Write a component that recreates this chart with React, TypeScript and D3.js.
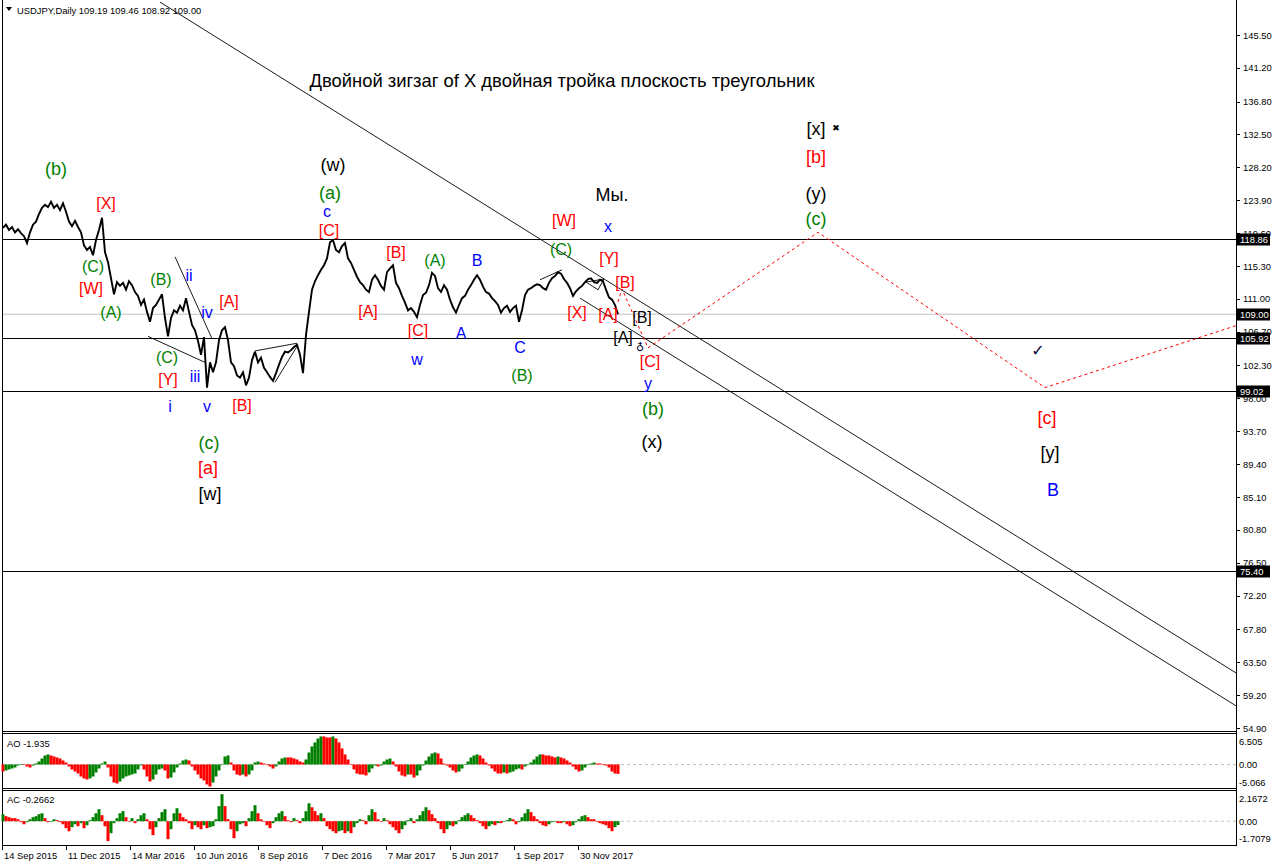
import React from "react";
import * as d3 from "d3";

// ---------- data ----------
const BARS_PER_SAMPLE = 3;
const TOTAL_BARS = 1234;

// USDJPY daily closes, one value every 3 bars
const closes = [
  120.3, 120.7, 120.0, 120.4, 119.7, 120.1, 119.6, 119.2, 118.3, 119.7,
  120.7, 121.1, 122.1, 122.9, 123.3, 123.0, 123.7, 122.9, 123.3, 122.6,
  123.5, 122.4, 121.1, 120.5, 121.2, 120.4, 119.7, 118.0, 117.4, 117.8,
  116.7, 118.7, 120.0, 121.6, 117.1, 115.8, 113.7, 111.6, 113.2, 112.7,
  113.1, 112.2, 113.3, 112.8, 111.9, 111.4, 110.2, 110.9, 109.3, 108.0,
  109.8, 110.2, 110.9, 111.6, 108.5, 106.1, 108.5, 109.5, 109.2, 110.1,
  109.5, 111.1, 109.3, 107.6, 106.9, 105.5, 103.7, 106.0, 99.4, 102.7,
  101.4, 102.7, 105.6, 106.9, 107.3, 105.6, 102.7, 102.2, 101.0, 100.7,
  101.4, 99.7, 100.7, 103.0, 104.1, 102.7, 103.3, 102.0, 101.4, 100.8,
  100.3, 101.3, 102.4, 103.4, 104.1, 104.0, 104.3, 104.7, 105.0, 103.7,
  101.3, 106.3, 109.3, 112.2, 113.3, 114.1, 114.8, 115.4, 116.3, 118.4,
  118.7, 117.4, 117.1, 117.9, 118.3, 116.3, 115.7, 114.8, 113.9, 113.2,
  112.8, 112.2, 111.9, 113.5, 114.1, 113.5, 112.7, 112.2, 114.5, 115.0,
  115.4, 113.1, 112.4, 111.4, 110.5, 109.5, 109.8, 109.3, 108.6, 110.2,
  111.5, 111.8, 112.8, 114.4, 114.0, 112.4, 111.9, 112.8, 112.2, 110.9,
  109.9, 109.2, 110.2, 111.1, 111.4, 112.2, 112.8, 113.5, 114.1, 113.5,
  112.6, 111.9, 111.7, 111.1, 110.7, 110.2, 109.2, 109.8, 110.1, 109.3,
  109.8, 110.1, 108.0, 109.5, 111.5, 112.2, 112.4, 112.7, 112.9, 112.8,
  112.4, 112.2, 113.1, 113.7, 114.0, 114.5, 114.3, 113.6, 113.1, 112.4,
  111.4, 112.0, 112.4, 112.7, 113.2, 113.6, 113.7, 113.2, 113.1, 113.5,
  113.3, 112.2, 111.2, 110.9, 110.2, 109.0,
];

// Awesome Oscillator, same sampling
const aoValues = [
  -1.45, -1.24, -1.03, -0.83, -0.62, -0.21, 0.1, 0.1, -0.41, -0.62,
  -0.21, 0.21, 0.62, 1.24, 1.86, 2.07, 1.86, 1.65, 1.45, 1.24,
  0.83, 0.41, -0.41, -1.03, -1.45, -1.86, -2.48, -2.89, -3.1, -2.89,
  -2.48, -1.65, -0.83, 0.21, 0.62, -0.62, -2.48, -3.72, -3.93, -3.51,
  -2.89, -2.48, -2.27, -2.07, -1.86, -1.03, -0.21, -1.03, -2.48, -3.51,
  -3.1, -2.07, -1.03, -0.83, -1.24, -2.89, -2.69, -1.65, -0.62, 0.21,
  0.83, 1.03, 0.83, -0.41, -1.24, -2.07, -2.89, -3.31, -4.13, -4.55,
  -3.72, -2.48, -1.24, 0.0, 1.65, 1.86, 0.41, -1.24, -2.07, -2.27,
  -2.07, -2.48, -2.07, -1.24, 0.41, 0.62, 0.41, 0.21, 0.0, -0.41,
  -0.83, -0.41, 0.62, 1.24, 1.45, 1.45, 1.45, 1.24, 1.03, 0.62,
  0.41, 1.03, 2.48, 3.72, 4.55, 5.37, 5.79, 5.79, 5.58, 5.58,
  5.79, 5.37, 4.55, 3.31, 2.07, 1.03, 0.0, -1.03, -1.86, -2.07,
  -2.07, -2.27, -1.65, -0.83, -0.21, -0.41, -0.21, 0.62, 1.03, 1.24,
  0.62, -0.41, -1.45, -2.27, -2.48, -2.07, -2.07, -2.69, -2.27, -1.24,
  -0.21, 0.83, 1.65, 2.27, 2.48, 2.27, 1.24, 0.21, -0.21, -0.62,
  -1.24, -1.65, -1.45, -0.83, 0.0, 0.62, 1.45, 1.86, 2.07, 1.86,
  1.24, 0.41, -0.21, -0.83, -1.45, -1.86, -1.86, -1.65, -1.86, -1.65,
  -1.45, -1.03, -0.83, -1.03, -0.41, 0.0, 0.41, 1.03, 1.65, 2.07,
  2.07, 1.86, 1.86, 1.65, 1.45, 1.65, 1.45, 1.24, 0.83, 0.41,
  -0.41, -1.03, -1.45, -1.24, -0.62, 0.0, 0.21, 0.41, 0.21, 0.21,
  0.0, -0.21, -0.62, -1.45, -1.86, -1.94,
];

// Accelerator Oscillator, same sampling
const acValues = [
  0.5, 0.36, 0.29, 0.22, 0.22, 0.14, -0.07, -0.22, -0.07, 0.14,
  0.29, 0.36, 0.5, 0.57, 0.22, -0.07, 0.0, 0.14, 0.07, -0.07,
  -0.22, -0.5, -0.72, -0.43, -0.22, -0.36, -0.14, -0.5, -0.29, 0.07,
  0.29, 0.57, 0.86, 0.43, -0.36, -1.43, -0.86, -0.14, 0.22, 0.57,
  0.72, 0.29, 0.0, 0.22, -0.14, 0.14, 0.43, 0.57, 0.14, -0.57,
  -1.0, -0.43, 0.22, 0.65, 0.86, -1.29, -0.57, 0.57, 0.93, 0.57,
  0.29, 0.14, -0.14, -0.57, -0.29, -0.43, -0.57, -0.29, -0.5, -0.43,
  -0.36, 0.14, 1.08, 1.94, 1.08, 0.14, -0.57, -1.22, -0.72, -0.22,
  -0.14, -0.36, 0.22, 0.72, 1.15, 0.57, 0.14, 0.0, -0.29, -0.5,
  -0.14, 0.29, 0.57, 0.72, 0.36, 0.07, -0.07, 0.22, 0.07, -0.14,
  0.22, 0.72, 1.29, 1.0, 0.72, 0.43, 0.57, 0.22, -0.36, -0.57,
  -0.72, -0.86, -0.72, -0.65, -0.86, -0.72, -0.86, -0.43, -0.14, 0.14,
  0.07, -0.22, 0.43, 0.86, 0.65, 0.14, 0.0, 0.22, 0.07, -0.22,
  -0.43, -0.65, -0.86, -0.57, -0.29, 0.07, 0.22, -0.14, 0.14, 0.43,
  0.72, 1.0, 0.79, 0.5, 0.22, -0.14, -0.57, -0.86, -0.57, -0.29,
  -0.36, -0.22, 0.07, 0.29, 0.43, 0.57, 0.43, 0.22, 0.07, -0.14,
  -0.36, -0.57, -0.36, -0.22, -0.29, -0.14, -0.14, 0.0, 0.07, 0.22,
  0.14, -0.22, -0.07, 0.29, 0.57, 0.86, 0.65, 0.36, 0.14, -0.14,
  -0.29, -0.36, -0.22, -0.07, 0.0, -0.14, -0.14, -0.07, -0.22, -0.36,
  -0.29, -0.07, 0.14, 0.36, 0.43, 0.29, 0.14, 0.14, 0.0, -0.14,
  -0.22, -0.29, -0.5, -0.72, -0.43, -0.27,
];

const priceTicks = [
  145.5, 141.2, 136.8, 132.5, 128.2, 123.9, 119.6, 115.3, 111.0, 106.7, 102.3,
  98.0, 93.7, 89.4, 85.1, 80.8, 76.5, 72.2, 67.8, 63.5, 59.2, 54.9,
];
const dateLabels = [
  "14 Sep 2015", "11 Dec 2015", "14 Mar 2016", "10 Jun 2016", "8 Sep 2016",
  "7 Dec 2016", "7 Mar 2017", "5 Jun 2017", "1 Sep 2017", "30 Nov 2017",
];
const BARS_BETWEEN_DATES = 64;

const levelLines = [118.86, 105.92, 99.02, 75.4];
const bidPrice = 109.0;
const aoScale = [6.505, 0, -5.066];
const acScale = [2.1672, 0, -1.7079];

// trend / channel lines: [bar1, price1, bar2, price2]
const trendLines = [
  [158, 149.8, 1234, 62.1],
  [578, 111.1, 1234, 57.8],
  [173, 116.5, 210, 105.8],
  [146, 106.1, 203, 102.7],
  [253, 104.2, 295, 105.2],
  [273, 100.1, 296, 105.0],
  [538, 113.5, 560, 114.8],
];
const smallTriangle = [[584, 113.2], [602, 113.6], [596, 112.2]];
const projection = [[616, 110.6], [620, 112.3], [646, 104.6], [816, 119.7], [1043, 99.4], [1234, 107.5]];

// wave labels: [text, colour, bar, price, large]
const waveLabels: [string, string, number, number, boolean][] = [
  ["(b)", "g", 54, 128.0, true],
  ["[X]", "r", 104, 123.5, false],
  ["(C)", "g", 91, 115.2, false],
  ["[W]", "r", 89, 112.3, false],
  ["(A)", "g", 109, 109.2, false],
  ["(B)", "g", 159, 113.5, false],
  ["ii", "b", 187, 114.1, false],
  ["iv", "b", 205, 109.2, false],
  ["[A]", "r", 227, 110.7, false],
  ["(C)", "g", 165, 103.4, false],
  ["[Y]", "r", 166, 100.5, false],
  ["iii", "b", 193, 100.9, false],
  ["i", "b", 168, 96.9, false],
  ["v", "b", 205, 96.9, false],
  ["[B]", "r", 240, 97.1, false],
  ["(c)", "g", 207, 92.2, true],
  ["[a]", "r", 206, 88.9, true],
  ["[w]", "k", 208, 85.5, true],
  ["(w)", "k", 331, 128.5, true],
  ["(a)", "g", 328, 124.8, true],
  ["c", "b", 325, 122.4, false],
  ["[C]", "r", 327, 119.9, false],
  ["[B]", "r", 394, 117.0, false],
  ["(A)", "g", 433, 116.0, false],
  ["B", "b", 475, 116.0, false],
  ["[A]", "r", 366, 109.3, false],
  ["[C]", "r", 416, 106.9, false],
  ["A", "b", 459, 106.5, false],
  ["w", "b", 415, 103.1, false],
  ["C", "b", 518, 104.7, false],
  ["(B)", "g", 520, 101.0, false],
  ["[W]", "r", 562, 121.2, false],
  ["(C)", "g", 559, 117.5, false],
  ["Мы.", "k", 610, 124.6, true],
  ["x", "b", 606, 120.4, false],
  ["[Y]", "r", 607, 116.3, false],
  ["[B]", "r", 623, 113.2, false],
  ["[X]", "r", 575, 109.2, false],
  ["[A]", "r", 606, 109.0, false],
  ["[B]", "k", 640, 108.6, false],
  ["[A]", "k", 621, 105.9, false],
  ["[C]", "r", 648, 102.8, false],
  ["y", "b", 646, 100.0, false],
  ["(b)", "g", 651, 96.6, true],
  ["(x)", "k", 650, 92.3, true],
  ["[x]", "k", 814, 133.2, true],
  ["[b]", "r", 814, 129.6, true],
  ["(y)", "k", 814, 124.7, true],
  ["(c)", "g", 814, 121.4, true],
  ["[c]", "r", 1045, 95.4, true],
  ["[y]", "k", 1048, 90.9, true],
  ["B", "b", 1051, 86.0, true],
];
const titleText = "Двойной зигзаг of X двойная тройка плоскость треугольник";
const titleAt = [560, 139.6];
const headerText = "USDJPY,Daily  109.19 109.46 108.92 109.00";

const COLORS: Record<string, string> = { r: "#ff0000", g: "#008000", b: "#0000ff", k: "#000000" };
const FONT = "'Liberation Sans', Arial, sans-serif";
const AXF = 9.4;

export default function App() {
  const x = d3.scaleLinear().domain([0, TOTAL_BARS]).range([2, 1236]);
  const y = d3.scaleLinear().domain([54.9, 145.5]).range([728, 35]);
  const yAO = d3.scaleLinear().domain([-5.066, 6.505]).range([789, 733]);
  const yAC = d3.scaleLinear().domain([-1.7079, 2.1672]).range([845, 791]);
  const barOf = (i: number) => 1 + i * BARS_PER_SAMPLE;
  const half = (x(BARS_PER_SAMPLE) - x(0)) / 2;

  const priceLine = d3
    .line<number>()
    .x((_, i) => x(barOf(i)))
    .y((d) => y(d))(closes) as string;
  const projLine = d3
    .line<number[]>()
    .x((d) => x(d[0]))
    .y((d) => y(d[1]))(projection) as string;
  const triPath = (d3.line<number[]>().x((d) => x(d[0])).y((d) => y(d[1]))(smallTriangle) as string) + "Z";

  const histo = (vals: number[], ys: d3.ScaleLinear<number, number>, key: string) =>
    vals.map((v, i) => {
      const up = i === 0 ? v >= 0 : v > vals[i - 1];
      const y0 = ys(0);
      const y1 = ys(v);
      return (
        <rect
          key={key + i}
          x={x(barOf(i)) - half}
          width={half * 2}
          y={Math.min(y0, y1)}
          height={Math.max(0.6, Math.abs(y1 - y0))}
          fill={up ? "#008000" : "#ff0000"}
        />
      );
    });

  return (
    <svg
      width={1276}
      height={866}
      style={{ position: "absolute", left: 0, top: 0, background: "#fff" }}
      fontFamily={FONT}
    >
      <defs>
        <clipPath id="mainClip">
          <rect x={2} y={1} width={1234} height={730} />
        </clipPath>
      </defs>
      <rect x={0} y={0} width={1276} height={866} fill="#fff" />

      {/* main panel */}
      <g clipPath="url(#mainClip)">
        <line x1={x(0)} x2={x(TOTAL_BARS)} y1={y(bidPrice)} y2={y(bidPrice)} stroke="#c0c0c0" strokeWidth={1} />
        {levelLines.map((p) => (
          <line key={"lv" + p} x1={x(0)} x2={x(TOTAL_BARS)} y1={Math.round(y(p)) + 0.5} y2={Math.round(y(p)) + 0.5} stroke="#000" strokeWidth={1} />
        ))}
        {trendLines.map((t, i) => (
          <line key={"tl" + i} x1={x(t[0])} y1={y(t[1])} x2={x(t[2])} y2={y(t[3])} stroke="#000" strokeWidth={0.9} />
        ))}
        <path d={triPath} fill="none" stroke="#000" strokeWidth={0.9} />
        <path d={projLine} fill="none" stroke="#ff0000" strokeWidth={1} strokeDasharray="3,3" />
        <path d={priceLine} fill="none" stroke="#000" strokeWidth={1.9} strokeLinejoin="miter" strokeMiterlimit={3} />

        <text x={x(titleAt[0])} y={y(titleAt[1])} textAnchor="middle" dominantBaseline="central" fontSize={18.4} fill="#000">
          {titleText}
        </text>
        {waveLabels.map((l, i) => (
          <text
            key={"wl" + i}
            x={x(l[2])}
            y={y(l[3])}
            textAnchor="middle"
            dominantBaseline="central"
            fontSize={l[4] ? 18 : 16}
            fill={COLORS[l[1]]}
          >
            {l[0]}
          </text>
        ))}
        <text x={x(1036)} y={y(104.2)} textAnchor="middle" dominantBaseline="central" fontSize={16} fontWeight="bold" fill="#000033" fontFamily="DejaVu Sans">
          ✓
        </text>
        <text x={x(834)} y={y(133.3)} textAnchor="middle" dominantBaseline="central" fontSize={9} fill="#000" fontFamily="DejaVu Sans">
          ✖
        </text>
        <text x={x(638)} y={y(104.6)} textAnchor="middle" dominantBaseline="central" fontSize={11} fill="#000033" fontFamily="DejaVu Sans">
          ♁
        </text>
      </g>

      {/* header */}
      <path d="M6,7 L12,7 L9,11 Z" fill="#000" />
      <text x={17} y={10} dominantBaseline="central" fontSize={AXF} fill="#000">
        {headerText}
      </text>

      {/* frames */}
      <line x1={2.5} x2={2.5} y1={0} y2={845} stroke="#000" />
      <line x1={1236.5} x2={1236.5} y1={0} y2={846} stroke="#000" />
      <line x1={2} x2={1237} y1={731.5} y2={731.5} stroke="#000" />
      <rect x={2.5} y={733.5} width={1234} height={55} fill="none" stroke="#000" />
      <rect x={2.5} y={790.5} width={1234} height={55} fill="none" stroke="#000" />

      {/* price axis */}
      {priceTicks.map((p) => (
        <g key={"pt" + p}>
          <line x1={1237} x2={1240} y1={Math.round(y(p)) + 0.5} y2={Math.round(y(p)) + 0.5} stroke="#000" />
          <text x={1243} y={y(p)} dominantBaseline="central" fontSize={AXF} fill="#000">
            {p.toFixed(2)}
          </text>
        </g>
      ))}
      {[...levelLines, bidPrice].map((p) => (
        <g key={"bx" + p}>
          <rect x={1237} y={Math.round(y(p)) - 5.5} width={33} height={12} fill="#000" />
          <text x={1240} y={Math.round(y(p)) + 0.5} dominantBaseline="central" fontSize={AXF} fill="#fff">
            {p.toFixed(2)}
          </text>
        </g>
      ))}

      {/* AO */}
      <line x1={3} x2={1236} y1={yAO(0)} y2={yAO(0)} stroke="#c0c0c0" strokeDasharray="3,3" />
      {histo(aoValues, yAO, "ao")}
      <text x={7} y={743} dominantBaseline="central" fontSize={AXF} fill="#000">
        AO -1.935
      </text>
      {aoScale.map((v, i) => (
        <text key={"aos" + i} x={1239} y={i === 0 ? 741 : i === 1 ? yAO(0) : 782} dominantBaseline="central" fontSize={AXF} fill="#000">
          {v === 0 ? "0.00" : v.toFixed(3)}
        </text>
      ))}

      {/* AC */}
      <line x1={3} x2={1236} y1={yAC(0)} y2={yAC(0)} stroke="#c0c0c0" strokeDasharray="3,3" />
      {histo(acValues, yAC, "ac")}
      <text x={7} y={799} dominantBaseline="central" fontSize={AXF} fill="#000">
        AC -0.2662
      </text>
      {acScale.map((v, i) => (
        <text key={"acs" + i} x={1239} y={i === 0 ? 798 : i === 1 ? yAC(0) : 838} dominantBaseline="central" fontSize={AXF} fill="#000">
          {v === 0 ? "0.00" : v.toFixed(4)}
        </text>
      ))}

      {/* date axis */}
      {dateLabels.map((d, k) => {
        const bx = x(k * BARS_BETWEEN_DATES);
        return (
          <g key={"dl" + k}>
            <line x1={bx + 0.5} x2={bx + 0.5} y1={846} y2={850} stroke="#000" />
            <text x={bx + 2} y={855} dominantBaseline="central" fontSize={AXF} fill="#000">
              {d}
            </text>
          </g>
        );
      })}
    </svg>
  );
}
